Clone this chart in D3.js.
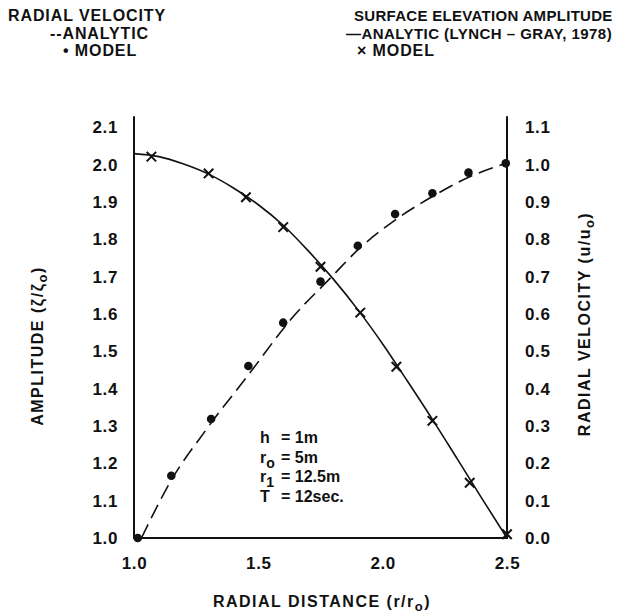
<!DOCTYPE html>
<html>
<head>
<meta charset="utf-8">
<script src="https://cdn.jsdelivr.net/npm/d3@7"></script>
<style>
  body { margin: 0; background: #fff; }
  svg { display: block; }
  text { font-family: "Liberation Sans", Arial, sans-serif; font-weight: bold; fill: #111; }
</style>
</head>
<body>
<svg id="chart" width="617" height="615"></svg>
<script>
// x values are r/r0
const xTicks = [1.0, 1.5, 2.0, 2.5];
const ampTicks = [1.0, 1.1, 1.2, 1.3, 1.4, 1.5, 1.6, 1.7, 1.8, 1.9, 2.0, 2.1];
const velTicks = [0.0, 0.1, 0.2, 0.3, 0.4, 0.5, 0.6, 0.7, 0.8, 0.9, 1.0, 1.1];

// surface elevation amplitude, analytic (solid) and model (x)
const ampAnalyticX = [1.0, 1.1, 1.2, 1.3, 1.4, 1.5, 1.6, 1.7, 1.8, 1.9, 2.0, 2.1, 2.2, 2.3, 2.4, 2.5];
const ampAnalyticY = [2.030, 2.022, 2.002, 1.975, 1.938, 1.893, 1.838, 1.770, 1.695, 1.612, 1.520, 1.420, 1.318, 1.212, 1.105, 1.000];
const ampModelX = [1.07, 1.30, 1.45, 1.60, 1.75, 1.91, 2.055, 2.20, 2.35, 2.50];
const ampModelY = [2.022, 1.977, 1.913, 1.833, 1.727, 1.604, 1.459, 1.314, 1.148, 1.010];

// radial velocity, analytic (dashed) and model (dots)
const velAnalyticX = [1.03, 1.15, 1.29, 1.46, 1.64, 1.795, 1.90, 2.05, 2.20, 2.35, 2.50];
const velAnalyticY = [0.000, 0.155, 0.290, 0.437, 0.593, 0.700, 0.772, 0.852, 0.915, 0.968, 1.005];
const velModelX = [1.015, 1.15, 1.31, 1.46, 1.60, 1.75, 1.90, 2.05, 2.20, 2.345, 2.495];
const velModelY = [0.0, 0.167, 0.319, 0.461, 0.577, 0.687, 0.783, 0.868, 0.924, 0.979, 1.004];

const svg = d3.select('#chart');

const x = d3.scaleLinear().domain([1.0, 2.5]).range([134, 507]);
const yAmp = d3.scaleLinear().domain([1.0, 2.1]).range([538, 127.5]);
const yVel = d3.scaleLinear().domain([0.0, 1.1]).range([538, 127.5]);

const fmt = d3.format('.1f');

// axes (labels only, frame drawn separately)
function styleAxis(g) {
  g.select('.domain').remove();
  g.selectAll('text').attr('font-size', 17).attr('fill', '#111')
    .attr('letter-spacing', 0.6)
    .attr('font-family', '"Liberation Sans", Arial, sans-serif').attr('font-weight', 'bold');
}

svg.append('g')
  .attr('transform', `translate(${x.range()[0]},0)`)
  .call(d3.axisLeft(yAmp).tickValues(ampTicks).tickSize(0).tickPadding(16).tickFormat(fmt))
  .call(styleAxis);

svg.append('g')
  .attr('transform', `translate(${x.range()[1]},0)`)
  .call(d3.axisRight(yVel).tickValues(velTicks).tickSize(0).tickPadding(18).tickFormat(fmt))
  .call(styleAxis);

svg.append('g')
  .attr('transform', `translate(0,${yAmp.range()[0]})`)
  .call(d3.axisBottom(x).tickValues(xTicks).tickSize(0).tickPadding(19).tickFormat(fmt))
  .call(styleAxis);

// frame: left, right, bottom (no top)
const frame = svg.append('g').attr('stroke', '#111').attr('stroke-width', 2).attr('fill', 'none');
frame.append('line')
  .attr('x1', x(1.0)).attr('x2', x(1.0)).attr('y1', yAmp(1.0)).attr('y2', yAmp(2.13));
frame.append('line')
  .attr('x1', x(2.5)).attr('x2', x(2.5)).attr('y1', yAmp(1.0)).attr('y2', yAmp(2.13));
frame.append('line')
  .attr('x1', x(1.0) - 1).attr('x2', x(2.5) + 1).attr('y1', yAmp(1.0)).attr('y2', yAmp(1.0));

// curves
const ampLine = d3.line()
  .x(d => x(d[0]))
  .y(d => yAmp(d[1]))
  .curve(d3.curveMonotoneX);

const velLine = d3.line()
  .x(d => x(d[0]))
  .y(d => yVel(d[1]))
  .curve(d3.curveMonotoneX);

svg.append('path')
  .datum(d3.zip(ampAnalyticX, ampAnalyticY))
  .attr('fill', 'none')
  .attr('stroke', '#111')
  .attr('stroke-width', 1.6)
  .attr('d', ampLine);

svg.append('path')
  .datum(d3.zip(velAnalyticX, velAnalyticY))
  .attr('fill', 'none')
  .attr('stroke', '#111')
  .attr('stroke-width', 1.6)
  .attr('stroke-dasharray', '15,7')
  .attr('d', velLine);

// model markers
const cross = d3.symbol().type(d3.symbolX).size(60);
svg.append('g')
  .selectAll('path')
  .data(d3.zip(ampModelX, ampModelY))
  .join('path')
  .attr('transform', d => `translate(${x(d[0])},${yAmp(d[1])})`)
  .attr('d', cross)
  .attr('fill', 'none')
  .attr('stroke', '#111')
  .attr('stroke-width', 2);

svg.append('g')
  .selectAll('circle')
  .data(d3.zip(velModelX, velModelY))
  .join('circle')
  .attr('cx', d => x(d[0]))
  .attr('cy', d => yVel(d[1]))
  .attr('r', 4.3)
  .attr('fill', '#111');

// axis titles
function subTitle(t, main, sub) {
  t.append('tspan').text(main);
  t.append('tspan').attr('dy', 4).attr('font-size', 13).text(sub);
  t.append('tspan').attr('dy', -4).text(')');
}

svg.append('text')
  .attr('x', 322)
  .attr('y', 607)
  .attr('text-anchor', 'middle')
  .attr('font-size', 16)
  .attr('letter-spacing', 1.5)
  .call(t => subTitle(t, 'RADIAL DISTANCE (r/r', 'o'));

svg.append('text')
  .attr('transform', 'translate(43,346) rotate(-90)')
  .attr('text-anchor', 'middle')
  .attr('font-size', 16)
  .attr('letter-spacing', 1.5)
  .call(t => subTitle(t, 'AMPLITUDE (ζ/ζ', 'o'));

svg.append('text')
  .attr('transform', 'translate(590,324) rotate(-90)')
  .attr('text-anchor', 'middle')
  .attr('font-size', 16)
  .attr('letter-spacing', 1.5)
  .call(t => subTitle(t, 'RADIAL VELOCITY (u/u', 'o'));

// legend
const legend = svg.append('g').attr('font-size', 16);
legend.append('g').attr('letter-spacing', 0.9).call(g => {
  g.append('text').attr('x', 8).attr('y', 21).text('RADIAL VELOCITY');
  g.append('text').attr('x', 50).attr('y', 39).text('--ANALYTIC');
  g.append('text').attr('x', 63).attr('y', 56).text('• MODEL');
});
legend.append('g').attr('font-size', 15).call(g => {
  g.append('text').attr('x', 354).attr('y', 21).attr('letter-spacing', 0.3).text('SURFACE ELEVATION AMPLITUDE');
  g.append('text').attr('x', 346).attr('y', 39).attr('letter-spacing', 0.45).text('—ANALYTIC (LYNCH – GRAY, 1978)');
  g.append('text').attr('x', 357).attr('y', 56).attr('font-size', 16).attr('letter-spacing', 0.9).text('× MODEL');
});

// parameters
const params = [
  { name: 'h', sub: '', value: '= 1m' },
  { name: 'r', sub: 'o', value: '= 5m' },
  { name: 'r', sub: '1', value: '= 12.5m' },
  { name: 'T', sub: '', value: '= 12sec.' }
];
const pg = svg.append('g').attr('font-size', 16);
params.forEach((p, i) => {
  const yy = 443 + i * 19.5;
  const t = pg.append('text').attr('x', 260).attr('y', yy);
  t.append('tspan').text(p.name);
  if (p.sub) t.append('tspan').attr('dy', 5).attr('font-size', 14).text(p.sub);
  pg.append('text').attr('x', 281).attr('y', yy).text(p.value);
});
</script>
</body>
</html>
